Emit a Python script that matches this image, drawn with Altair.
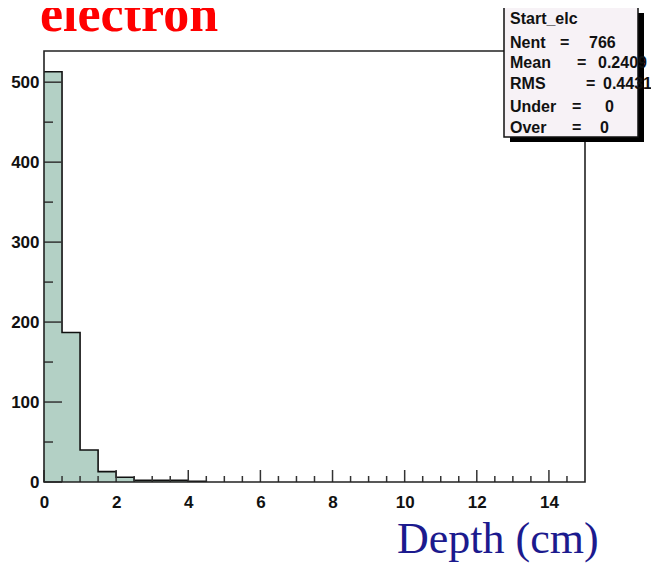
import altair as alt
import pandas as pd

# ---- data ----
bin_lo = [0.0, 0.5, 1.0, 1.5, 2.0, 2.5, 3.0, 3.5, 4.0]
counts = [513, 187, 40, 13, 6, 2, 2, 2, 1]
bin_width = 0.5

x_major = [0, 2, 4, 6, 8, 10, 12, 14]
x_minor = [0.5, 1, 1.5, 2.5, 3, 3.5, 4.5, 5, 5.5, 6.5, 7, 7.5, 8.5, 9, 9.5,
           10.5, 11, 11.5, 12.5, 13, 13.5, 14.5]
y_major = [0, 100, 200, 300, 400, 500]
y_minor = [50, 150, 250, 350, 450]

stats_title = "Start_elc"
stats_names = ["Nent", "Mean", "RMS", "Under", "Over"]
stats_values = ["766", "0.2409", "0.4431", "0", "0"]

title_text = "electron"
xlabel_text = "Depth (cm)"

# ---- layout ----
W, H = 541, 431
xs = alt.Scale(domain=[0, 15], nice=False, zero=False)
ys = alt.Scale(domain=[0, 539], nice=False, zero=False)

lab = dict(labelFont="Liberation Sans", labelFontWeight="bold", labelFontSize=17,
           labelColor="#111", ticks=False, tickSize=0, domain=False, grid=False,
           title=None, labelFlush=False, labelOverlap=False)
ax_x = alt.Axis(values=x_major, format="d", labelPadding=12, **lab)
ax_y = alt.Axis(values=y_major, format="d", labelPadding=5, **lab)

step_df = pd.DataFrame({"x": bin_lo + [bin_lo[-1] + bin_width],
                        "y": counts + [0]})
one = pd.DataFrame({"a": [0]})

fill = alt.Chart(step_df).mark_area(interpolate="step-after", fill="#b3d0c5",
                                    line=False).encode(
    x=alt.X("x:Q", scale=xs, axis=ax_x),
    y=alt.Y("y:Q", scale=ys, axis=ax_y),
    y2=alt.datum(0),
)

outline = alt.Chart(step_df).mark_line(interpolate="step-after", color="#111",
                                       strokeWidth=1.6).encode(
    x=alt.X("x:Q", scale=xs, axis=ax_x),
    y=alt.Y("y:Q", scale=ys, axis=ax_y),
)

tick_style = dict(color="#333", strokeWidth=1.5)
xmaj = alt.Chart(pd.DataFrame({"v": x_major})).mark_rule(**tick_style).encode(
    x=alt.X("v:Q", scale=xs, axis=ax_x), y=alt.value(H), y2=alt.value(H - 12))
xmin = alt.Chart(pd.DataFrame({"v": x_minor})).mark_rule(**tick_style).encode(
    x=alt.X("v:Q", scale=xs, axis=ax_x), y=alt.value(H), y2=alt.value(H - 6))
ymaj = alt.Chart(pd.DataFrame({"v": y_major})).mark_rule(**tick_style).encode(
    y=alt.Y("v:Q", scale=ys, axis=ax_y), x=alt.value(0), x2=alt.value(18))
ymin = alt.Chart(pd.DataFrame({"v": y_minor})).mark_rule(**tick_style).encode(
    y=alt.Y("v:Q", scale=ys, axis=ax_y), x=alt.value(0), x2=alt.value(9))

frame = alt.Chart(one).mark_rect(fillOpacity=0, stroke="#222", strokeWidth=1.6).encode(
    x=alt.value(0), x2=alt.value(W), y=alt.value(0), y2=alt.value(H))

shadow = alt.Chart(one).mark_rect(color="#000").encode(
    x=alt.value(466), x2=alt.value(600), y=alt.value(-38), y2=alt.value(91))
box = alt.Chart(one).mark_rect(fill="#f7f2f6", stroke="#111", strokeWidth=1.5).encode(
    x=alt.value(460), x2=alt.value(594), y=alt.value(-44), y2=alt.value(86))

txt = dict(align="left", baseline="alphabetic", font="Liberation Sans",
           fontWeight="bold", fontSize=16, color="#111")


def t(s, x, y, **kw):
    style = dict(txt)
    style.update(kw)
    return alt.Chart(one).mark_text(**style).encode(
        x=alt.value(x), y=alt.value(y), text=alt.value(s))


stat_layers = [t(stats_title, 466, -27)]
row_y = [-3, 17, 38, 61, 82]
eq_x = [516, 533, 542, 528, 528]
val_x = [545, 554, 559, 561, 556]
for name, val, yy, ex, vx in zip(stats_names, stats_values, row_y, eq_x, val_x):
    stat_layers.append(t(name, 466, yy))
    stat_layers.append(t("=", ex, yy))
    stat_layers.append(t(val, vx, yy))

title = t(title_text, -4, -20, font="Liberation Serif", fontSize=52,
          color="#ff0000")
xlabel = t(xlabel_text, 353, 502, font="Liberation Serif", fontWeight="normal",
           fontSize=44, color="#1c1a8e")

chart = alt.layer(
    fill, outline, xmaj, xmin, ymaj, ymin, frame, shadow, box,
    *stat_layers, title, xlabel
).properties(
    width=W, height=H, autosize="none",
    padding={"left": 36, "top": 43, "right": 66, "bottom": 83},
    background="white",
).configure_view(stroke=None)

chart.save("out.html", embed_options={"renderer": "svg", "actions": False})
